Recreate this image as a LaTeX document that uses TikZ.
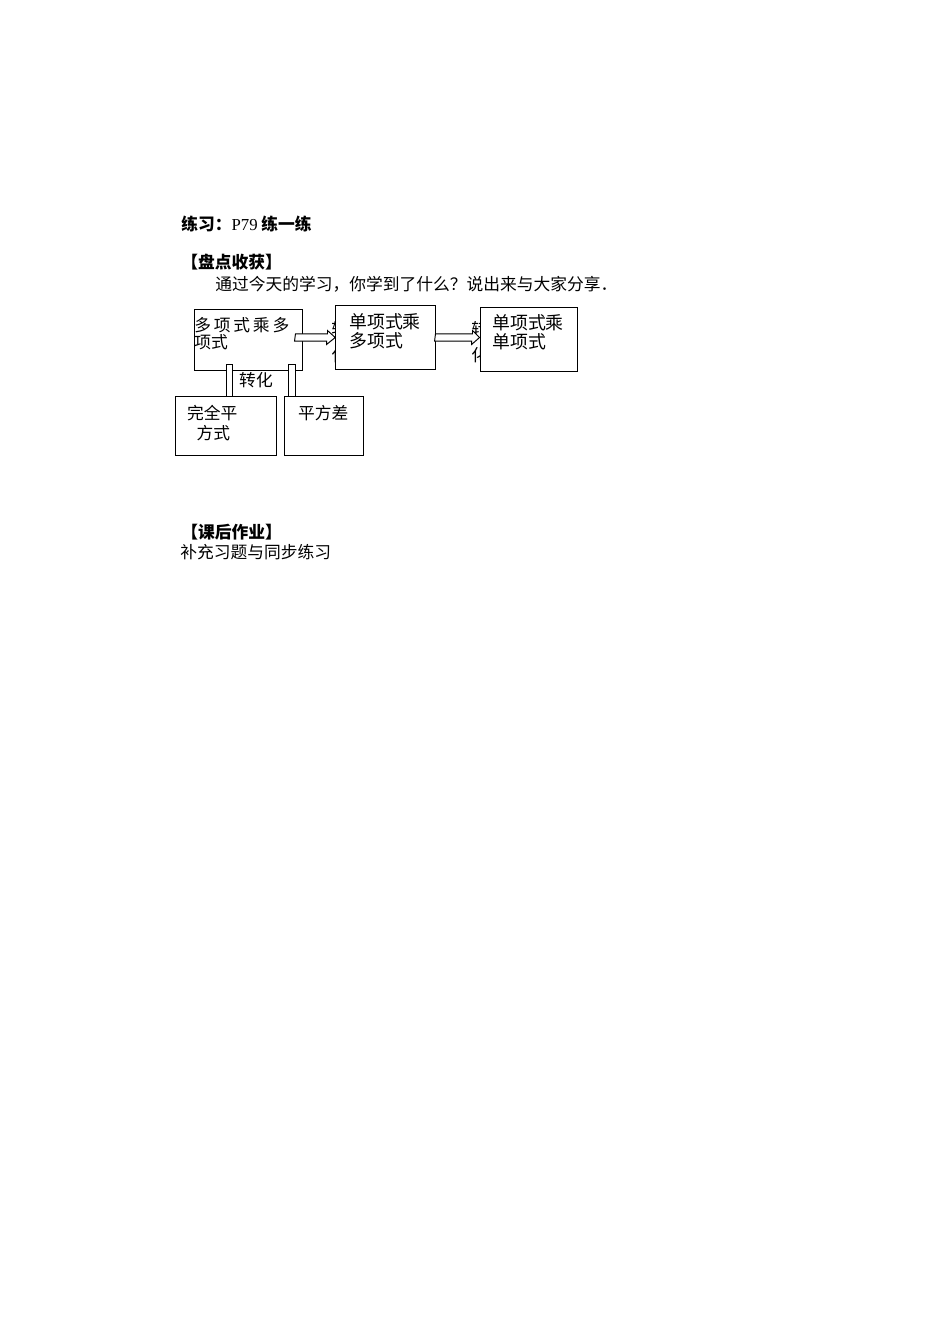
\documentclass[tikz,border=0pt]{standalone}
\usepackage{fontspec}
\setmainfont{Noto Sans CJK SC}
\newfontfamily\latinserif{Liberation Serif}
\usetikzlibrary{calc}
\newcommand{\pxu}{0.62663pt}
\begin{document}
\begin{tikzpicture}[x=0.62663pt, y=-0.62663pt, font=\fontsize{10.5}{12}\selectfont,
    txt/.style={inner sep=0, anchor=west},
    boxtxt/.style={inner sep=0, anchor=base west, align=left},
    box/.style={draw, fill=white, line width=0.6pt, inner sep=0},
    hid/.style={inner sep=0, anchor=west, align=left, font=\fontsize{10.5}{16}\selectfont},
    pipe/.style={draw, fill=white, line width=0.6pt},
    blockarrow/.style={draw, fill=white, line width=0.6pt, line join=miter}]
    \useasboundingbox (0,0) rectangle (950,1344);
    \node[txt] (title) at (181,224) {\textbf{练习：}{\latinserif P79} \textbf{练一练}};
    \node[txt] (harvest) at (181,262) {\textbf{【盘点收获】}};
    \node[txt] (question) at (215,284) {通过今天的学习，你学到了什么？说出来与大家分享．};
    \node[txt] (homework) at (181,532) {\textbf{【课后作业】}};
    \node[txt] (exercise) at (180,552) {补充习题与同步练习};
    \node[hid] (hida) at (331,342) {转\\化};
    \node[hid] (hidb) at (471,342) {转\\化};
    \node[box, minimum width=108*\pxu, minimum height=61*\pxu] (poly) at (248,339.5) {};
    \node[box, minimum width=100*\pxu, minimum height=63.6*\pxu] (monopoly) at (385.7,337.5) {};
    \node[box, minimum width=97.3*\pxu, minimum height=63.7*\pxu] (monomono) at (528.7,339.2) {};
    \node[box, minimum width=101*\pxu, minimum height=58.3*\pxu] (square) at (226.2,425.9) {};
    \node[box, minimum width=79*\pxu, minimum height=59.3*\pxu] (diff) at (323.8,426.3) {};
    \node[boxtxt, font=\fontsize{10.5}{10.8}\selectfont] (polytxt) at (194,348.5) {多\,项\,式\,乘\,多\\项式};
    \node[boxtxt, font=\fontsize{11.2}{11.8}\selectfont] (monopolytxt) at (349,347.5) {单项式乘\\多项式};
    \node[boxtxt, font=\fontsize{11.2}{12.2}\selectfont] (monomonotxt) at (492,348.5) {单项式乘\\单项式};
    \node[boxtxt, font=\fontsize{10.5}{12.5}\selectfont] (squaretxt) at (186.7,439.5) {完全平\\\hspace*{6pt}方式};
    \node[boxtxt] (difftxt) at (297.7,419.5) {平方差};
    \coordinate (p1) at (229.5,0);
    \coordinate (p2) at (291.7,0);
    \draw[pipe] (poly.south -| p1) ++(-3,-6) rectangle ($(square.north -| p1)+(3,0)$);
    \draw[pipe] (poly.south -| p2) ++(-3.3,-6) rectangle ($(diff.north -| p2)+(3.3,0)$);
    \node[inner sep=0] (turn) at (256,380) {转化};
    \draw[blockarrow] (poly.east |- monopoly.west) ++(-7,-3.7) -- ++(32,0) -- ++(0,-3.3)
        -- (monopoly.west) -- ++(-8.7,7) -- ++(0,-3.3) -- ++(-32,0) -- cycle;
    \draw[blockarrow] (monopoly.east) ++(-0.7,-3.7) -- ++(37,0) -- ++(0,-3.3)
        -- (monomono.west |- monopoly.east) -- ++(-8,7) -- ++(0,-3.3) -- ++(-37,0) -- cycle;
\end{tikzpicture}
\end{document}
